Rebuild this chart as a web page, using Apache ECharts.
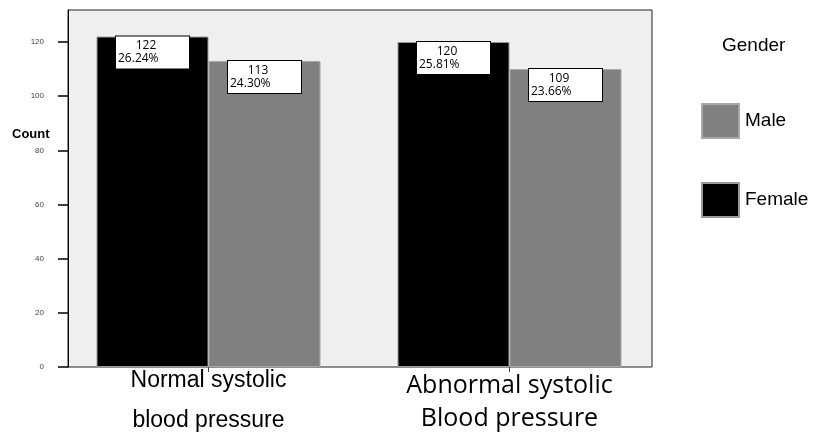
<!DOCTYPE html>
<html>
<head>
<meta charset="utf-8">
<script src="https://cdn.jsdelivr.net/npm/echarts@6/dist/echarts.min.js"></script>
<style>html,body{margin:0;padding:0;background:#fff;}#c{width:816px;height:437px;}</style>
</head>
<body>
<div id="c"></div>
<script>
const categories = ['Normal systolic\nblood pressure', 'Abnormal systolic\nBlood pressure'];
const femaleCounts = [122, 120];
const maleCounts = [113, 110];
const femaleCountLabels = ['122', '120'];
const femalePctLabels = ['26.24%', '25.81%'];
const maleCountLabels = ['113', '109'];
const malePctLabels = ['24.30%', '23.66%'];
const yTicks = [0, 20, 40, 60, 80, 100, 120];
const yMax = 131.8;

const chart = echarts.init(document.getElementById('c'), null, {renderer: 'canvas'});

function barLabel(counts, pcts) {
  return {
    show: true,
    position: 'insideTop',
    distance: 0,
    backgroundColor: '#fff',
    borderColor: '#000',
    borderWidth: 1,
    padding: [3, 2, 3, 2],
    formatter: p => '{a|' + counts[p.dataIndex] + '}\n{b|' + pcts[p.dataIndex] + '}',
    rich: {
      a: {fontFamily: 'Open Sans', fontSize: 12, lineHeight: 13, color: '#000', width: 56, align: 'center', padding: [0, 13, 0, 0]},
      b: {fontFamily: 'Open Sans', fontSize: 12, lineHeight: 13, color: '#000', width: 69, align: 'left'}
    }
  };
}

const option = {
  animation: false,
  backgroundColor: '#fff',
  title: [
    {text: 'Count', left: 12, top: 128, padding: 0,
     textStyle: {fontFamily: 'Liberation Sans', fontSize: 13, fontWeight: 'bold', color: '#000'}},
    {text: 'Gender', left: 722, top: 36, padding: 0,
     textStyle: {fontFamily: 'Liberation Sans', fontSize: 19, fontWeight: 'normal', color: '#000'}}
  ],
  legend: {
    orient: 'vertical',
    left: 701,
    top: 103,
    padding: 0,
    itemWidth: 37,
    itemHeight: 34,
    itemGap: 43,
    icon: 'rect',
    data: ['Male', 'Female'],
    textStyle: {fontFamily: 'Liberation Sans', fontSize: 19, color: '#000', padding: [0, 0, 0, 1]}
  },
  grid: [
    {left: 58, right: 156, top: 10, bottom: 70, show: false},
    {left: 68, right: 164, top: 10, bottom: 70, show: true,
     backgroundColor: '#efefef', borderColor: '#222', borderWidth: 1}
  ],
  xAxis: {
    type: 'category',
    gridIndex: 0,
    data: categories,
    axisLine: {show: false},
    axisTick: {show: true, alignWithLabel: true, length: 5, lineStyle: {color: '#444'}},
    axisLabel: {
      interval: 0,
      margin: 2,
      formatter: (v, i) => {
        const parts = v.split('\n');
        return i === 0
          ? '{a1|' + parts[0] + '}\n{a2|' + parts[1] + '}'
          : '{b1|' + parts[0] + '}\n{b2|' + parts[1] + '}';
      },
      rich: {
        a1: {fontFamily: 'Liberation Sans', fontSize: 23, lineHeight: 24, color: '#000'},
        a2: {fontFamily: 'Liberation Sans', fontSize: 23, lineHeight: 56, color: '#000'},
        b1: {fontFamily: 'Open Sans', fontSize: 25, lineHeight: 34, color: '#000'},
        b2: {fontFamily: 'Open Sans', fontSize: 25, lineHeight: 32, color: '#000'}
      }
    }
  },
  yAxis: {
    type: 'value',
    gridIndex: 0,
    min: 0,
    max: yMax,
    interval: 20,
    offset: -10,
    axisLine: {show: true, lineStyle: {color: '#000', width: 1}},
    axisTick: {show: true, length: 10, lineStyle: {color: '#000', width: 1.5}, customValues: yTicks},
    axisLabel: {margin: 24, fontFamily: 'Liberation Sans', fontSize: 8, color: '#444', customValues: yTicks},
    splitLine: {show: false}
  },
  series: [
    {
      name: 'Female', type: 'bar', data: femaleCounts, barWidth: 112, barGap: '0%',
      itemStyle: {color: '#000', borderColor: '#9a9a9a', borderWidth: 1},
      label: barLabel(femaleCountLabels, femalePctLabels)
    },
    {
      name: 'Male', type: 'bar', data: maleCounts, barWidth: 112, barGap: '0%',
      itemStyle: {color: '#808080', borderColor: '#a8a8a8', borderWidth: 1},
      label: barLabel(maleCountLabels, malePctLabels)
    }
  ]
};
chart.setOption(option);
</script>
</body>
</html>
